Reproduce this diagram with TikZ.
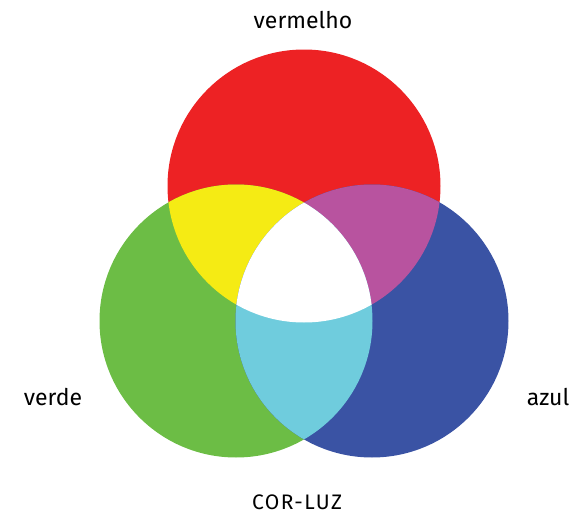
\documentclass[tikz,border=0pt]{standalone}
\usepackage{fontspec}
\setmainfont{Fira Sans}
\definecolor{vermelho}{HTML}{ED2224}
\definecolor{verde}{HTML}{6CBD45}
\definecolor{azul}{HTML}{3A53A4}
\definecolor{amarelo}{HTML}{F5EB14}
\definecolor{magenta}{HTML}{B8539F}
\definecolor{ciano}{HTML}{6FCCDD}
\newcommand{\rad}{136.5pt}

\begin{document}
\begin{tikzpicture}[x=1pt,y=-1pt,
	rotulo/.style={anchor=base,inner sep=0pt,font=\fontsize{23}{27}\selectfont}]
	\useasboundingbox (0,0) rectangle (574,514);
	\coordinate (r) at (304,186);
	\coordinate (g) at (236,321);
	\coordinate (b) at (372,321);
	\fill[vermelho] (r) circle[radius=\rad];
	\fill[verde] (g) circle[radius=\rad];
	\fill[azul] (b) circle[radius=\rad];
	\begin{scope}
		\clip (r) circle[radius=\rad];
		\fill[amarelo] (g) circle[radius=\rad];
		\fill[magenta] (b) circle[radius=\rad];
	\end{scope}
	\begin{scope}
		\clip (g) circle[radius=\rad];
		\fill[ciano] (b) circle[radius=\rad];
		\clip (r) circle[radius=\rad];
		\fill[white] (b) circle[radius=\rad];
	\end{scope}
	\node[rotulo] (lr) at (303,28) {vermelho};
	\node[rotulo] (lg) at (53,405) {verde};
	\node[rotulo] (lb) at (548,405) {azul};
	\node[rotulo,font=\fontsize{21}{24}\selectfont\addfontfeatures{LetterSpace=7}] (lt) at (297,509) {COR-LUZ};
\end{tikzpicture}
\end{document}
